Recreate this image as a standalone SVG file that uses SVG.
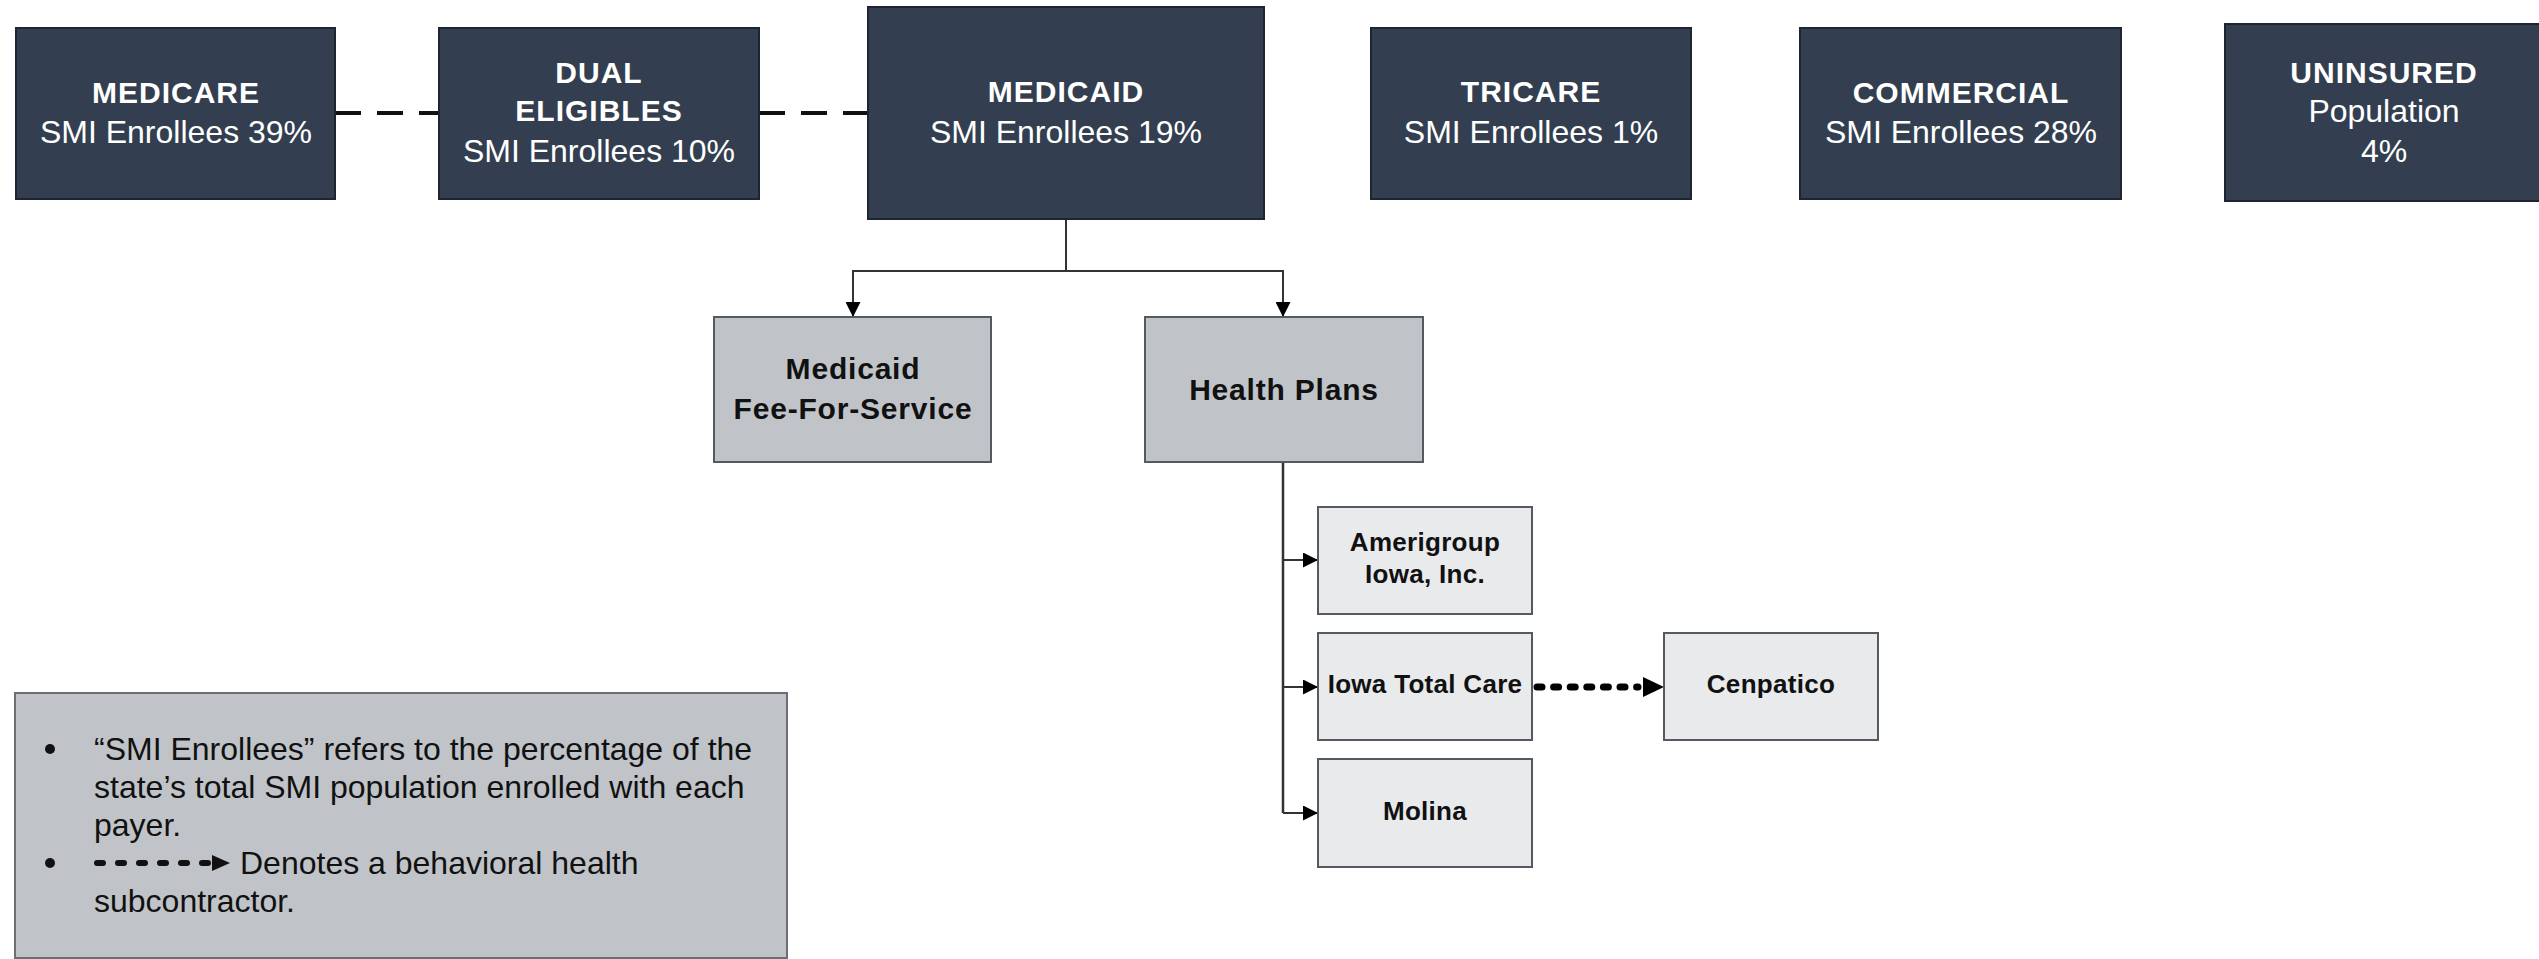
<svg xmlns="http://www.w3.org/2000/svg" width="2539" height="959" viewBox="0 0 2539 959">
<style>
.dark{fill:#333f50;stroke:#1e2530;stroke-width:2}
.mid{fill:#c0c4c8;stroke:#555a60;stroke-width:2}
.light{fill:#e9eaec;stroke:#555a60;stroke-width:2}
.legend{fill:#c0c4c8;stroke:#6b6f74;stroke-width:2}
text{font-family:"Liberation Sans",Arial,sans-serif;text-anchor:middle}
.hw{fill:#ffffff;font-weight:bold;font-size:30px;letter-spacing:1px}
.rw{fill:#ffffff;font-size:32px}
.hb{fill:#111111;font-weight:bold;font-size:30px;letter-spacing:0.8px}
.sb{fill:#111111;font-weight:bold;font-size:26px;letter-spacing:0.3px}
.lg{fill:#111111;font-size:32px;text-anchor:start}
.dash{fill:none;stroke:#111111;stroke-width:4;stroke-dasharray:26 16}
.tree{fill:none;stroke:#333333;stroke-width:2}
.dot{fill:none;stroke:#000000;stroke-width:7;stroke-linecap:round;stroke-dasharray:5 11.6}
</style>
<defs>
<marker id="arr" viewBox="0 0 10 10" refX="10" refY="5" markerWidth="15" markerHeight="15" markerUnits="userSpaceOnUse" orient="auto">
<path d="M0,0 L10,5 L0,10 Z" fill="#000"/>
</marker>
</defs>

<g id="connectors">
<line class="dash" x1="335" y1="113" x2="439" y2="113"/>
<line class="dash" x1="759" y1="113" x2="868" y2="113"/>
<polyline class="tree" points="1066,219 1066,271 853,271 853,317" marker-end="url(#arr)"/>
<polyline class="tree" points="1066,271 1283,271 1283,317" marker-end="url(#arr)"/>
<line class="tree" style="stroke-width:2.5" x1="1283" y1="462" x2="1283" y2="813"/>
<line class="tree" x1="1283" y1="560" x2="1318" y2="560" marker-end="url(#arr)"/>
<line class="tree" x1="1283" y1="687" x2="1318" y2="687" marker-end="url(#arr)"/>
<line class="tree" x1="1283" y1="813" x2="1318" y2="813" marker-end="url(#arr)"/>
<line class="dot" x1="1537" y1="687" x2="1638" y2="687"/>
<path d="M1643,677 L1664,687 L1643,697 Z" fill="#000"/>
</g>

<g id="medicare">
<rect class="dark" x="16" y="28" width="319" height="171"/>
<text class="hw" x="176" y="103">MEDICARE</text>
<text class="rw" x="176" y="143">SMI Enrollees 39%</text>
</g>

<g id="dual-eligibles">
<rect class="dark" x="439" y="28" width="320" height="171"/>
<text class="hw" x="599" y="83">DUAL</text>
<text class="hw" x="599" y="121">ELIGIBLES</text>
<text class="rw" x="599" y="162">SMI Enrollees 10%</text>
</g>

<g id="medicaid">
<rect class="dark" x="868" y="7" width="396" height="212"/>
<text class="hw" x="1066" y="102">MEDICAID</text>
<text class="rw" x="1066" y="143">SMI Enrollees 19%</text>
</g>

<g id="tricare">
<rect class="dark" x="1371" y="28" width="320" height="171"/>
<text class="hw" x="1531" y="102">TRICARE</text>
<text class="rw" x="1531" y="143">SMI Enrollees 1%</text>
</g>

<g id="commercial">
<rect class="dark" x="1800" y="28" width="321" height="171"/>
<text class="hw" x="1961" y="103">COMMERCIAL</text>
<text class="rw" x="1961" y="143">SMI Enrollees 28%</text>
</g>

<g id="uninsured">
<rect class="dark" x="2225" y="24" width="316" height="177"/>
<text class="hw" x="2384" y="83">UNINSURED</text>
<text class="rw" x="2384" y="122">Population</text>
<text class="rw" x="2384" y="162">4%</text>
</g>

<g id="medicaid-ffs">
<rect class="mid" x="714" y="317" width="277" height="145"/>
<text class="hb" x="853" y="379">Medicaid</text>
<text class="hb" x="853" y="419">Fee-For-Service</text>
</g>

<g id="health-plans">
<rect class="mid" x="1145" y="317" width="278" height="145"/>
<text class="hb" x="1284" y="400">Health Plans</text>
</g>

<g id="amerigroup">
<rect class="light" x="1318" y="507" width="214" height="107"/>
<text class="sb" x="1425" y="551">Amerigroup</text>
<text class="sb" x="1425" y="583">Iowa, Inc.</text>
</g>

<g id="iowa-total-care">
<rect class="light" x="1318" y="633" width="214" height="107"/>
<text class="sb" x="1425" y="693">Iowa Total Care</text>
</g>

<g id="molina">
<rect class="light" x="1318" y="759" width="214" height="108"/>
<text class="sb" x="1425" y="820">Molina</text>
</g>

<g id="cenpatico">
<rect class="light" x="1664" y="633" width="214" height="107"/>
<text class="sb" x="1771" y="693">Cenpatico</text>
</g>

<g id="legend">
<rect class="legend" x="15" y="693" width="772" height="265"/>
<circle cx="50" cy="749" r="5" fill="#111"/>
<text class="lg" x="94" y="760">“SMI Enrollees” refers to the percentage of the</text>
<text class="lg" x="94" y="798">state’s total SMI population enrolled with each</text>
<text class="lg" x="94" y="836">payer.</text>
<circle cx="50" cy="863" r="5" fill="#111"/>
<line x1="97" y1="863" x2="208" y2="863" stroke="#111" stroke-width="6" stroke-linecap="round" stroke-dasharray="6 15"/>
<path d="M212,855 L230,863 L212,871 Z" fill="#111"/>
<text class="lg" x="240" y="874">Denotes a behavioral health</text>
<text class="lg" x="94" y="912">subcontractor.</text>
</g>
</svg>
